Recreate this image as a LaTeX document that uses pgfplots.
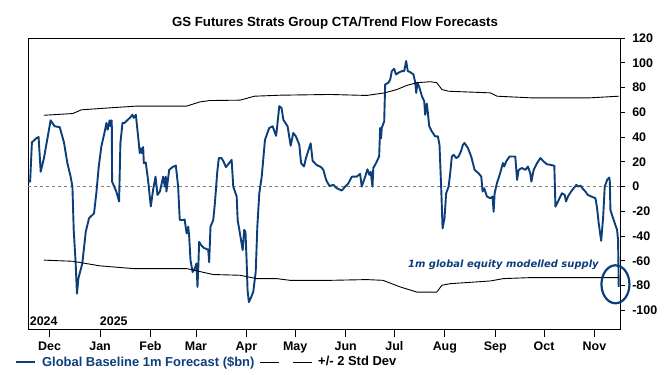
\documentclass[border=0pt]{standalone}
\usepackage{fontspec}
\setmainfont{Liberation Sans}
\newfontfamily\dv{DejaVu Sans}
\usepackage{pgfplots}
\pgfplotsset{compat=1.18}
\definecolor{gsblue}{RGB}{12,62,124}
\begin{document}
\begin{tikzpicture}
\useasboundingbox (0,0) rectangle (669bp,375bp);
\begin{axis}[
  at={(28.5bp,46bp)}, anchor=south west,
  scale only axis, width=592bp, height=291bp,
  xmin=-13, xmax=351, ymin=-115, ymax=120,
  clip=false,
  axis line style={black, line width=0.9bp},
  xtick={0,31,62,90,121,151,182,212,243,274,304,335},
  xticklabels={Dec,Jan,Feb,Mar,Apr,May,Jun,Jul,Aug,Sep,Oct,Nov},
  xtick pos=bottom,
  ytick={-100,-80,...,120},
  ytick pos=right, yticklabel pos=right,
  tick align=outside,
  xtick style={black, line width=0.9bp, /pgfplots/major tick length=8bp},
  ytick style={black, line width=0.9bp, /pgfplots/major tick length=4.5bp},
  ticklabel style={font=\bfseries\fontsize{12.5}{14}\selectfont},
  xticklabel style={yshift=-5bp},
  yticklabel style={xshift=4bp},
  /pgf/number format/assume math mode=true,
  legend columns=-1,
  legend style={at={(axis description cs:0,0)}, anchor=west, xshift=-13.5bp, yshift=-33bp,
    draw=none, fill=none, inner sep=0pt,
    nodes={inner xsep=0bp},
    font=\bfseries\fontsize{13}{15}\selectfont,
    /tikz/every odd column/.append style={column sep=6bp},
    /tikz/every even column/.append style={column sep=5.5bp}},
  legend image code/.code={\draw[#1] (0bp,0bp) -- (19bp,0bp);},
]
\addplot[gray, line width=0.8bp, dash pattern=on 3bp off 3bp, forget plot] coordinates {(-13,0) (351,0)};
\addplot[gsblue, line width=1.9bp, line join=round] coordinates {
(-13.4,4) (-12,4) (-10.9,35.7) (-8.2,39) (-6.8,40) (-5.5,12) (-3.5,23) (0.6,53.5) (3.1,48.7) (6.2,48)
(8.8,35.7) (10.9,19) (12.9,8) (14,0) (14.8,-35) (16,-62) (16.8,-86.5) (17.7,-74) (20.1,-62) (22.2,-36.5)
(24.2,-25.6) (27.3,-21.6) (28.7,-5.4) (30.2,16.2) (31.8,32.4) (33.9,44.6) (34.9,51.4) (35.7,46) (36.9,53.5) (37.5,48.7)
(38.2,53.5) (38.4,4) (41,-4) (42.7,-12) (43.5,35) (44.8,51.4) (46,51.4) (49.3,55.5) (50.9,58) (51.7,55.5)
(53,58) (54.4,40.6) (55.4,27) (56,31) (56.8,27) (57.5,32) (57.9,19) (59.1,19.5) (60.5,5.4) (62.2,-16)
(63.6,-2.7) (65.1,8) (66.3,-6.7) (67.8,-4) (69.8,8) (70.8,0) (71.4,8) (71.8,-4) (73.5,13.5) (75.5,15.7)
(77.6,17) (79,0) (80,-27) (82,-27) (83,-26.5) (84.2,-37.8) (85.2,-32.4) (85.8,-40.5) (86.6,-59.4) (87.9,-69)
(89.3,-66) (90.3,-62) (90.9,-81) (91.5,-62) (91.9,-44.6) (93,-47) (94.8,-49.5) (97.5,-51) (98.1,-61) (98.9,-32.4)
(100.6,-27) (101.6,-13.5) (103,10.8) (104,23) (105.7,23) (107,20) (108.4,15.7) (110.4,19) (111.9,21.6) (112.9,0)
(115,-8) (115.6,-27) (117,-37.8) (118.7,-51.3) (119.6,-35) (120.4,-36.5) (121.1,-59.4) (121.7,-83.8) (122.5,-93.3) (123.5,-90.6)
(125.2,-85) (126.7,-69) (127.7,-32.4) (128.9,-5.4) (130.4,8) (132.4,37.8) (135,47.3) (137.1,48.7) (139.2,41) (139.8,47.3)
(141.2,65) (142.6,63.4) (143.7,54) (146.3,48.7) (148.2,33) (149.8,43.3) (151.4,40.6) (153.5,33.8) (154.6,19) (156.4,16.2)
(157.6,23) (160.5,35) (161.7,20.8) (164,17.6) (166.9,15.7) (168.3,13.5) (170,5.4) (172,0.5) (174.5,1.4) (176.5,-1.3)
(179.6,-3.2) (181.7,0) (183.7,2.7) (185.8,8) (188.8,8) (190.9,10.3) (191.9,0) (194,8) (195.4,14) (196.6,9.5)
(197.4,12) (198.5,0) (199,15) (200.7,19) (202.6,24.3) (203.2,47.3) (203.8,39) (204.2,47.3) (205.7,52.7) (206.3,82.5)
(208.3,83.9) (209.4,86.5) (210.4,93.3) (211.8,95.2) (213,90.5) (214.5,92) (216.6,93.3) (218,93.3) (219.2,101.4) (220.2,93.3)
(221.6,92.5) (223.7,90.6) (224.8,83.9) (225.4,75.7) (226.2,84) (227.4,79.8) (228.9,73) (230.3,69) (230.9,58) (231.9,67)
(232.6,59) (233.4,48.7) (235,44.6) (237,40.6) (238.7,40.6) (239.7,33.8) (240.8,-2.7) (241.6,-33.8) (242.8,-25.3) (243.8,-5.4)
(245.3,0) (246.3,10.8) (247.3,24.3) (248.4,25.7) (250,23) (251.4,24.3) (252.9,28.4) (254.1,33.8) (255.1,35.2) (257.2,31.1)
(259.2,24.3) (261.3,13.5) (263.7,10.8) (265.4,8) (266.2,-4) (267.2,-1.3) (268.9,-8) (270.9,-9.4) (272.3,-8) (273,-20.3)
(273.6,-5.4) (275,2.7) (277,10.8) (278.7,19) (279.5,16.2) (280.7,20.3) (282.8,24.3) (285.3,24.3) (286.3,24.3) (287.4,5.4)
(288.4,13.5) (290.4,15) (292.5,13.5) (294.1,16.2) (295.5,10.8) (296.2,4) (297.6,13.5) (299.7,19) (301.7,23) (303.7,20.3)
(305.8,18) (307.8,17.6) (310.3,16.8) (311,-16.2) (313,-10.8) (315,-5.4) (316.7,-6.7) (317.5,-12) (318.7,-8) (320.6,-4)
(322.2,-1.3) (323.9,1.4) (324.9,0) (326.4,0.8) (328,-2) (329.4,-4) (330.9,-6.7) (333,-8) (335.6,-9.4) (336.6,-17.5)
(337.6,-29.7) (339.1,-43.8) (340.3,-25.3) (341.3,0) (342.8,5.4) (344,7.3) (344.4,5) (344.8,-18.9) (346.8,-27) (348.9,-35)
(349.5,-43.2) (349.9,-81)
};
\addlegendentry{\textcolor{gsblue}{Global Baseline 1m Forecast (\$bn)}}
\addplot[black, line width=0.9bp] coordinates {
(-3.5,57.6) (14.3,59) (19.5,62) (37,63.6) (53.4,65) (84.2,65) (92.4,68.4) (98.5,69.5) (117,69.8) (126,73)
(141.6,73.8) (172.4,74.4) (195,73.6) (206,75.7) (213.5,78.4) (219.6,81.7) (225.8,83.9) (234,84.7) (238,83.9) (241.2,78.4)
(245.3,77) (271,75.7) (275,73) (295.6,71.7) (316,71.7) (332.5,71.7) (350,73)
};
\addlegendentry{\hspace{1.5bp}}
\addplot[black, line width=0.9bp] coordinates {
(-3.5,-59.4) (14.3,-60.3) (30.8,-64) (51.3,-66.2) (84.2,-66.2) (100.5,-71) (117,-71.6) (127.3,-74.3) (139.5,-74.3) (147.8,-75.7)
(172.4,-75.7) (195,-75.1) (205,-75.7) (215.5,-81) (225.8,-85.2) (238,-85.2) (241.2,-79.7) (246.3,-78.4) (271,-76.2) (279,-74.3)
(295.6,-73.5) (350,-73.5)
};
\addlegendentry{+/- 2 Std Dev}
\draw[gsblue, line width=2.2bp] (axis cs:347.9,-78.9) ellipse [x radius=14bp, y radius=19bp];
\node[gsblue, font=\dv\bfseries\itshape\fontsize{10}{12}\selectfont, inner sep=0pt] at (axis cs:279,-63.5) {1m global equity modelled supply};
\node[anchor=west, font=\bfseries\fontsize{12.5}{14}\selectfont, inner sep=0pt] at (axis cs:-12.3,-108.7) {2024};
\node[anchor=west, font=\bfseries\fontsize{12.5}{14}\selectfont, inner sep=0pt] at (axis cs:30.8,-108.7) {2025};
\end{axis}
\node[font=\bfseries\fontsize{13.3}{15}\selectfont] at (335bp,352.3bp) {GS Futures Strats Group CTA/Trend Flow Forecasts};
\end{tikzpicture}
\end{document}
